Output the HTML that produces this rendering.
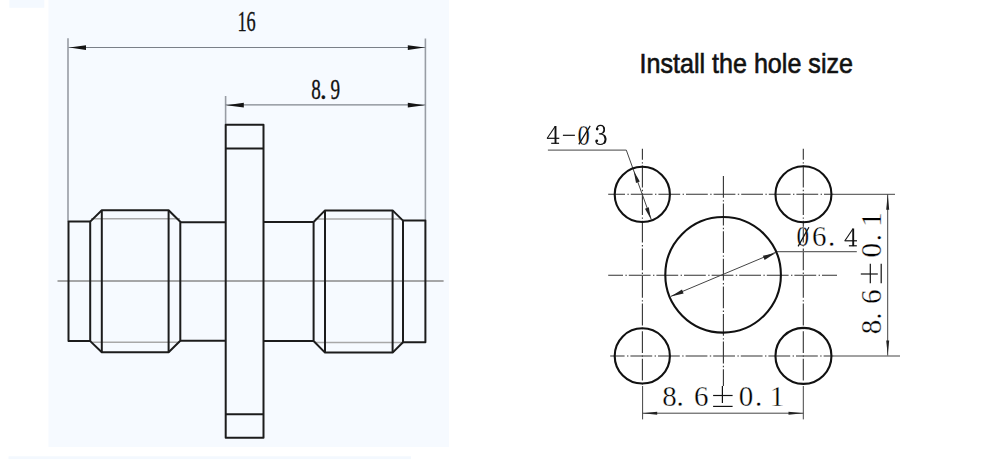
<!DOCTYPE html>
<html><head><meta charset="utf-8">
<style>
html,body{margin:0;padding:0;background:#fff;width:1000px;height:470px;overflow:hidden}
svg{display:block}
text{font-family:"Liberation Serif",serif}
.t{font-family:"Liberation Sans",sans-serif}
</style></head><body>
<svg width="1000" height="470" viewBox="0 0 1000 470">
<!-- backgrounds -->
<rect x="0" y="0" width="1000" height="470" fill="#ffffff"/>
<rect x="48.5" y="0" width="400.5" height="447" fill="#f6faff"/>
<rect x="9.3" y="0" width="35" height="7.8" fill="#f4f9ff"/>
<rect x="8.5" y="456.3" width="402.5" height="2.8" fill="#f3f8fe"/>

<!-- LEFT DRAWING -->
<g stroke="#989ca4" stroke-width="1.6" fill="none">
  <!-- extension lines -->
  <line x1="68" y1="38.3" x2="68" y2="221.5"/>
  <line x1="425.4" y1="38.5" x2="425.4" y2="220.5"/>
  <line x1="225.6" y1="96" x2="225.6" y2="124.5"/>
</g>
<g stroke="#7a8088" stroke-width="1.1" fill="none">
  <!-- dimension lines -->
  <line x1="68.5" y1="47.5" x2="425.3" y2="47.5"/>
  <line x1="225.5" y1="104.9" x2="425.3" y2="104.9" stroke="#80868e" stroke-width="1.3"/>
</g>
<g stroke="#a8a8a8" stroke-width="1.5" fill="none">
  <!-- thread minor lines -->
  <line x1="91" y1="218.8" x2="180" y2="218.8"/>
  <line x1="91" y1="342.3" x2="180" y2="342.3"/>
  <line x1="315" y1="219" x2="402" y2="219"/>
  <line x1="315" y1="342.6" x2="402" y2="342.6"/>
</g>
<!-- center line left -->
<line x1="57.5" y1="281" x2="443.6" y2="281" stroke="#8a8a8a" stroke-width="1.5"/>
<!-- arrowheads -->
<g fill="#141414">
  <polygon points="69.3,47.6 86,45.2 86,50"/>
  <polygon points="424.6,47.6 407.8,45.2 407.8,50"/>
  <polygon points="226.3,105.2 243.8,102.8 243.8,107.6"/>
  <polygon points="424.6,105.2 407.8,102.8 407.8,107.6"/>
</g>
<!-- body -->
<g stroke="#1c1c1c" stroke-width="2" fill="none" stroke-linejoin="round">
  <!-- flange -->
  <rect x="225.7" y="124.7" width="37.8" height="313"/>
  <line x1="225.7" y1="148.5" x2="263.5" y2="148.5"/>
  <line x1="225.7" y1="414.3" x2="263.5" y2="414.3"/>
  <!-- left outer rect -->
  <rect x="68.5" y="221.6" width="21.7" height="119.5"/>
  <!-- left thread body -->
  <polyline points="90.2,221.6 101.8,210.2 168.6,210.2 180.3,221.8 180.3,340.8 168.6,352.3 101.8,352.3 90.2,341.1"/>
  <line x1="101.8" y1="210.2" x2="101.8" y2="352.3"/>
  <line x1="168.6" y1="210.2" x2="168.6" y2="352.3"/>
  <!-- left neck -->
  <line x1="180.3" y1="222.2" x2="225.7" y2="222.2"/>
  <line x1="180.3" y1="340.8" x2="225.7" y2="340.8"/>
  <!-- right neck -->
  <line x1="263.5" y1="222" x2="313.6" y2="222"/>
  <line x1="263.5" y1="341" x2="313.6" y2="341"/>
  <!-- right thread body -->
  <polyline points="313.6,222 325,210.4 392.6,210.4 403,220.6 403,342.2 392.6,352.6 325,352.6 313.6,341 313.6,222"/>
  <line x1="325" y1="210.4" x2="325" y2="352.6"/>
  <line x1="392.6" y1="210.4" x2="392.6" y2="352.6"/>
  <!-- right outer rect -->
  <rect x="403" y="220.6" width="22.4" height="121.6"/>
</g>
<!-- texts left -->
<g fill="#111" stroke="#111" stroke-width="0.35" font-family="Liberation Serif" text-anchor="middle">
  <text font-size="30" transform="translate(246.6,31.4) scale(0.61,1)">16</text>
  <text font-size="30" transform="translate(316.1,99.1) scale(0.64,1)">8</text>
  <text font-size="30" transform="translate(323.3,99.1) scale(0.9,1)">.</text>
  <text font-size="30" transform="translate(335.2,99.1) scale(0.64,1)">9</text>
</g>

<!-- RIGHT DRAWING -->
<text class="t" font-size="27" fill="#111" stroke="#111" stroke-width="0.6" transform="translate(639.5,73) scale(0.93,1)">Install the hole size</text>

<!-- center lines -->
<g stroke="#333" stroke-width="1.1" fill="none" stroke-dasharray="21.8 2.4 1.4 2">
  <line x1="608.2" y1="194.3" x2="834" y2="194.3" stroke-dashoffset="5"/>
  <line x1="608.2" y1="275.2" x2="837" y2="275.2" stroke-dashoffset="7"/>
  <line x1="610.2" y1="356" x2="834" y2="356" stroke="#777" stroke-width="1.4" stroke-dashoffset="7.4"/>
  <line x1="642.4" y1="148.7" x2="642.4" y2="386" stroke-dashoffset="10.7"/>
  <line x1="723.4" y1="176" x2="723.4" y2="386" stroke-dashoffset="0"/>
  <line x1="803.3" y1="148.7" x2="803.3" y2="386" stroke-dashoffset="10.7"/>
</g>
<g stroke="#444" stroke-width="1" fill="none">
  <!-- extension lines solid -->
  <line x1="834" y1="194.3" x2="895" y2="194.3"/>
  <line x1="834" y1="356" x2="900" y2="356"/>
  <line x1="642.6" y1="386" x2="642.6" y2="419.4"/>
  <line x1="803.3" y1="386" x2="803.3" y2="419.4"/>
  <!-- dimension lines -->
  <line x1="887.7" y1="194.3" x2="887.7" y2="355.5"/>
  <line x1="642.6" y1="413.2" x2="803.3" y2="413.2"/>
  <!-- leaders -->
  <polyline points="547.9,150.1 626.3,150.1 651.3,219.5"/>
  <polyline points="670.7,296.4 775.8,252.2"/>
  <line x1="775.8" y1="251.7" x2="856.8" y2="251.7" stroke="#666" stroke-width="1.3"/>
</g>
<g fill="#222">
  <polygon points="887.7,194.3 886.2,209.8 889.2,209.8"/>
  <polygon points="887.7,355 886.2,340.5 889.2,340.5"/>
  <polygon points="642.6,413.2 657.2,411.7 657.2,414.7"/>
  <polygon points="803.3,413.2 788.5,411.7 788.5,414.7"/>
  <polygon points="670.8,296.5 682.0,289.5 683.6,293.5"/>
  <polygon points="775.8,252.9 764.6,259.9 762.9,255.8"/>
  <polygon points="633.8,171.0 639.8,181.6 636.0,183.0"/>
  <polygon points="650.9,219.3 645.0,208.7 648.8,207.3"/>
</g>
<!-- circles -->
<g stroke="#111" stroke-width="2.1" fill="none">
  <circle cx="642.3" cy="194.4" r="27.6"/>
  <circle cx="803.45" cy="194.3" r="28"/>
  <circle cx="642.3" cy="355.9" r="27.6"/>
  <circle cx="803.45" cy="355.9" r="28"/>
  <circle cx="723.1" cy="274.8" r="57.8"/>
</g>
<!-- texts right -->
<g transform="translate(546.9,143.9)" fill="none" stroke="#111">
  <path d="M0.3,-5.6 L8.4,-17.6" stroke-width="1.1"/>
  <path d="M8.6,-17.9 L8.6,-0.3" stroke-width="1.9"/>
  <path d="M0,-5.6 L12.4,-5.6" stroke-width="1.2"/>
  <path d="M4.3,-0.6 L12.2,-0.6" stroke-width="1.2"/>
</g>
<g transform="translate(594.8,144.7)" fill="none" stroke="#111" stroke-linecap="round">
  <path d="M1.9,-15.6 C2.3,-18.2 4,-19.3 5.7,-19.3 C8.1,-19.3 9.5,-17.5 9.5,-15.2 C9.5,-12.6 7.5,-10.9 4.6,-10.9 M4.6,-10.9 C8.6,-10.9 10.7,-8.4 10.7,-5.4 C10.7,-2.2 8.3,-0.2 5.3,-0.2 C2.7,-0.2 1.2,-1.6 1.2,-3.7" stroke-width="1.2"/>
  <path d="M8.7,-17.6 C9.6,-16.1 9.6,-14.1 8.6,-12.7" stroke-width="1.5"/>
  <path d="M9.7,-8.6 C10.9,-6.6 10.9,-3.6 9.6,-1.9" stroke-width="1.9"/>
  <circle cx="2.4" cy="-15.6" r="1.35" fill="#111" stroke="none"/>
  <circle cx="2.0" cy="-3.9" r="1.35" fill="#111" stroke="none"/>
</g>

<g transform="translate(844.6,246.4)" fill="none" stroke="#111">
  <path d="M0.3,-5.6 L8.4,-17.6" stroke-width="1.1"/>
  <path d="M8.6,-17.9 L8.6,-0.3" stroke-width="1.9"/>
  <path d="M0,-5.6 L12.4,-5.6" stroke-width="1.2"/>
  <path d="M4.3,-0.6 L12.2,-0.6" stroke-width="1.2"/>
</g>

<g fill="#000" stroke="#fff" stroke-width="0.35" font-family="Liberation Serif" font-size="29" text-anchor="middle">
  <!-- 4-Ø3 -->
  <text transform="translate(583.7,144.6) scale(0.85,1)">0</text>
  <!-- Ø6.4 -->
  <text transform="translate(802.75,246.2) scale(0.87,1)">0</text>
  <text x="819.3" y="246.2">6</text>
  <text x="831.5" y="246.2">.</text>
  <g transform="translate(663.1,406)">
  <text x="6.4">8</text>
  <text x="17.1">.</text>
  <text x="38.1">6</text>
  <text x="83" >0</text>
  <text x="95.6">.</text>
  <text x="113.8">1</text>
</g>
  <g transform="translate(880.8,333.3) rotate(-90)">
  <text x="6.4">8</text>
  <text x="17.1">.</text>
  <text x="36.6">6</text>
  <text x="83" >0</text>
  <text x="95.6">.</text>
  <text x="113.8">1</text>
  </g>
</g>
<g stroke="#111" stroke-width="1.2" fill="none">
  <line x1="562.9" y1="135.3" x2="574.9" y2="135.3"/>
  <line x1="590.2" y1="125.9" x2="578.8" y2="144.4"/>
  <line x1="808.9" y1="227.3" x2="798.1" y2="246.4"/>
  <g>
    <line x1="713.1" y1="395.5" x2="732.6" y2="395.5"/>
    <line x1="722.4" y1="386" x2="722.4" y2="403"/>
    <line x1="713.1" y1="406.4" x2="732.6" y2="406.4"/>
  </g>
</g>
<g stroke="#111" stroke-width="1.2" fill="none" transform="translate(880.8,333.3) rotate(-90) translate(-663.1,-406)">
    <line x1="713.1" y1="395.5" x2="732.6" y2="395.5"/>
    <line x1="722.4" y1="386" x2="722.4" y2="403"/>
    <line x1="713.1" y1="406.4" x2="732.6" y2="406.4"/>
</g>
</svg>
</body></html>
